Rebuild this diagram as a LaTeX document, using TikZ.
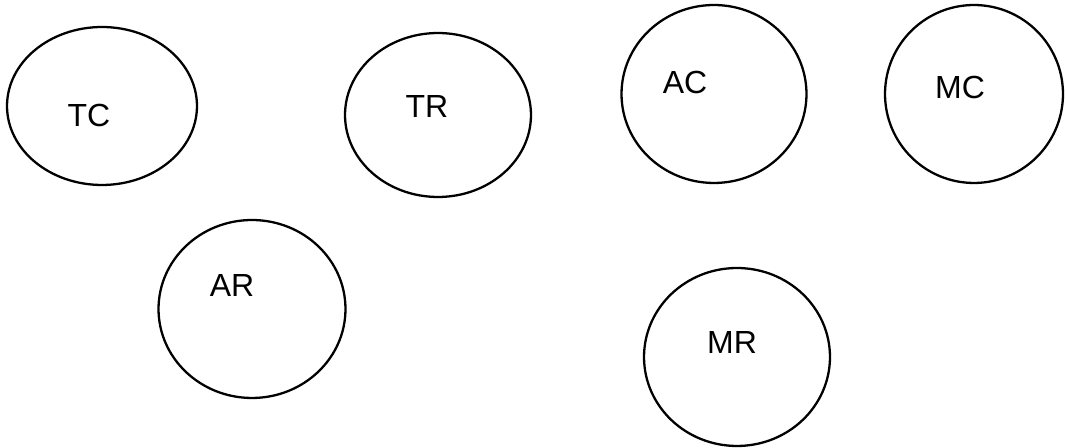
\documentclass[tikz,border=0pt]{standalone}
\usepackage{fontspec}
\setmainfont{Liberation Sans}
\usepackage{tikz}
\usetikzlibrary{shapes.geometric}
\tikzset{
  role/.style={ellipse,draw=black,line width=1.3pt,fill=none,inner sep=0pt},
  rolename/.style={inner sep=0pt,text=black,font=\fontsize{18.2pt}{22pt}\selectfont}
}
\begin{document}
\begin{tikzpicture}[x=0.02cm,y=-0.02cm]
  \useasboundingbox (0,0) rectangle (1066,448);
  % circles, top row
  \node[role,minimum width=3.8cm,minimum height=3.16cm] (tc) at (102,106) {};
  \node[role,minimum width=3.72cm,minimum height=3.28cm] (tr) at (438,115) {};
  \node[role,minimum width=3.7cm,minimum height=3.56cm] (ac) at (714,94) {};
  \node[role,minimum width=3.56cm,minimum height=3.56cm] (mc) at (974,94) {};
  % circles, bottom row
  \node[role,minimum width=3.74cm,minimum height=3.56cm] (ar) at (252,309) {};
  \node[role,minimum width=3.72cm,minimum height=3.56cm] (mr) at (737,357) {};
  % names
  \node[rolename] (tcname) at (89,116) {TC};
  \node[rolename] (trname) at (427,107) {TR};
  \node[rolename] (acname) at (685,83) {AC};
  \node[rolename] (mcname) at (960,88) {MC};
  \node[rolename] (arname) at (232,286) {AR};
  \node[rolename] (mrname) at (732,343) {MR};
\end{tikzpicture}
\end{document}
